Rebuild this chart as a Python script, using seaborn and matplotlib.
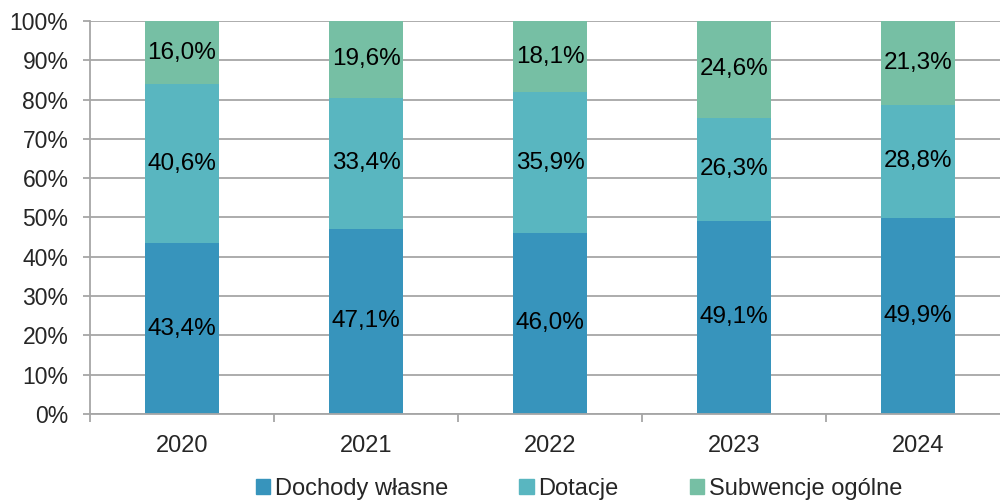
import numpy as np
import pandas as pd
import matplotlib
matplotlib.use("Agg")
import matplotlib.pyplot as plt
import seaborn as sns

years = ["2020", "2021", "2022", "2023", "2024"]
dochody = [43.4, 47.1, 46.0, 49.1, 49.9]
dotacje = [40.6, 33.4, 35.9, 26.3, 28.8]
subwencje = [16.0, 19.6, 18.1, 24.6, 21.3]
series_names = ["Dochody własne", "Dotacje", "Subwencje ogólne"]
colors = ["#3794BC", "#59B6C0", "#76BFA4"]

sns.set_theme(style="white")
plt.rcParams["font.family"] = ["Liberation Sans", "DejaVu Sans"]

fig = plt.figure(figsize=(10, 5.04), dpi=100)
ax = fig.add_axes([0.090, 0.179, 0.920, 0.779])

df = pd.DataFrame({"year": years, "d": dochody, "t": dotacje, "s": subwencje})
bottoms = np.zeros(len(years))
layers = [df["d"].to_numpy(), df["t"].to_numpy(), df["s"].to_numpy()]
for vals, name, col in zip(layers, series_names, colors):
    sns.barplot(x=df["year"], y=vals, bottom=bottoms, color=col, width=0.40,
                ax=ax, label=name, saturation=1, linewidth=0, errorbar=None,
                legend=False)
    for i, v in enumerate(vals):
        ax.text(i, bottoms[i] + v / 2, f"{v:.1f}%".replace(".", ","),
                ha="center", va="center", fontsize=17.5, color="black")
    bottoms = bottoms + vals

if ax.get_legend() is not None:
    ax.get_legend().remove()

ax.set_xlim(-0.5, 4.5)
ax.set_ylim(0, 100)
ax.set_yticks(np.arange(0, 101, 10))
ax.set_yticklabels([f"{t}%" for t in range(0, 101, 10)], fontsize=16.5)
ax.set_xticks(range(len(years)))
ax.set_xticklabels(years, fontsize=17)
ax.set_xlabel("")
ax.set_ylabel("")

ax.yaxis.grid(True, color="#a6a6a6", linewidth=1.3)
ax.set_axisbelow(True)
for side in ["top", "right"]:
    ax.spines[side].set_visible(False)
for side in ["left", "bottom"]:
    ax.spines[side].set_color("#a6a6a6")
    ax.spines[side].set_linewidth(1.3)

ax.tick_params(axis="y", left=True, length=5, width=1.3, color="#a6a6a6", pad=10.5)
ax.tick_params(axis="x", bottom=False, pad=9)
# category separators below the axis
ax.set_xticks(np.arange(-0.5, 4.6, 1.0), minor=True)
ax.tick_params(axis="x", which="minor", bottom=True, length=6, width=1.3, color="#a6a6a6")

handles = [plt.Rectangle((0, 0), 1, 1, color=c) for c in colors]
leg = fig.legend(handles, series_names, loc="center", bbox_to_anchor=(0.579, 0.03), ncol=3,
                 frameon=False, fontsize=17, handlelength=0.62, handleheight=0.62,
                 handletextpad=0.2, columnspacing=3.0, borderpad=0, borderaxespad=0)

fig.savefig("out.png", dpi=100)
